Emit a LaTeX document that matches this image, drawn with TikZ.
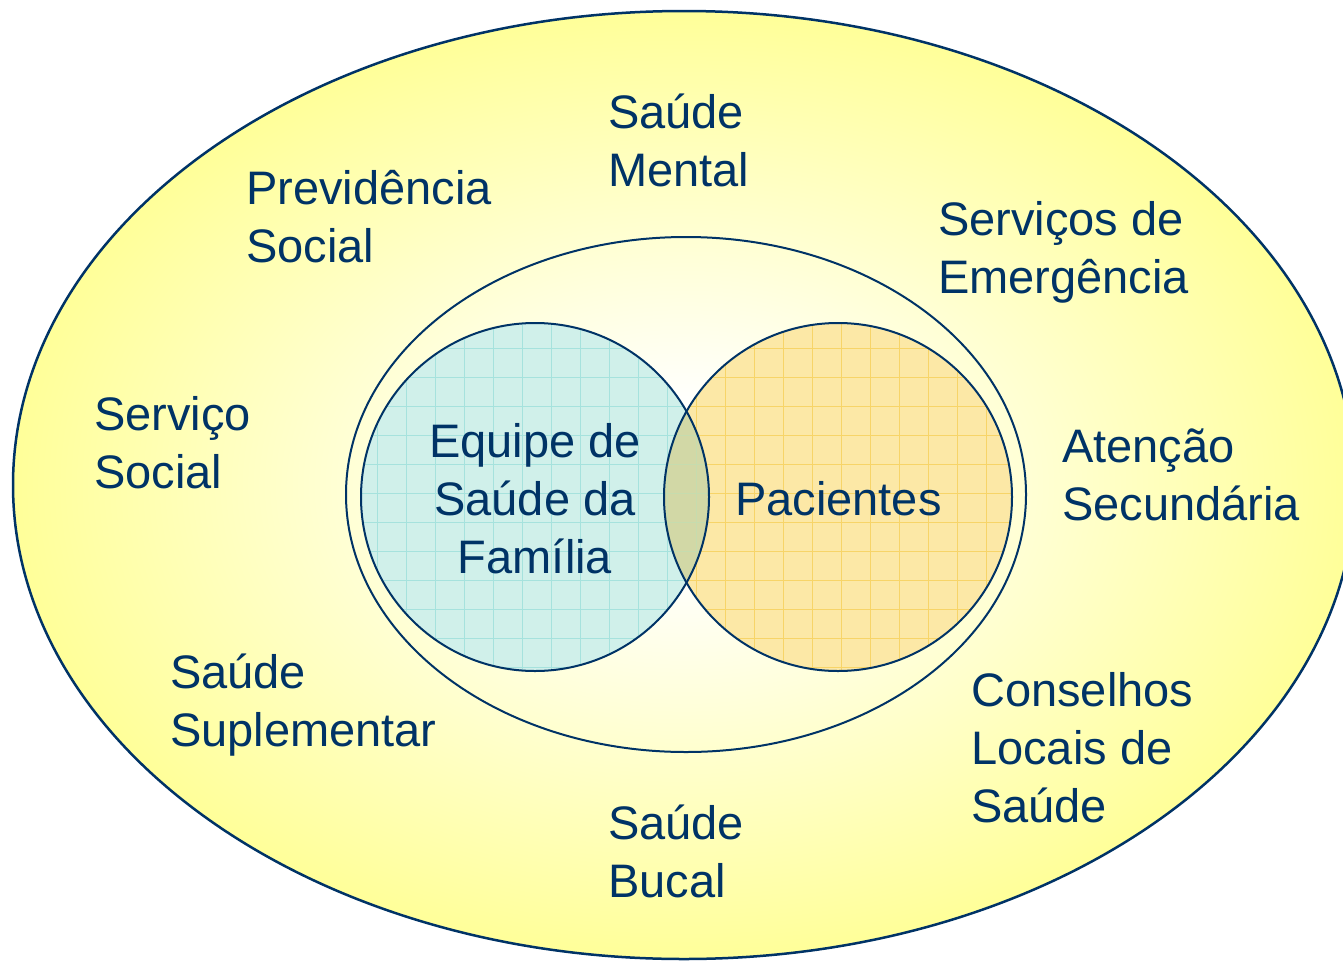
\documentclass[tikz,border=0pt]{standalone}
\usepackage{fontspec}
\setmainfont{Liberation Sans}
\definecolor{navy}{HTML}{003366}
\definecolor{yel}{HTML}{FFFF99}
\definecolor{tealfill}{HTML}{D0F0EA}
\definecolor{tealgrid}{HTML}{A6E2DD}
\definecolor{orfill}{HTML}{FCE8A6}
\definecolor{orgrid}{HTML}{F7D468}
\definecolor{olive}{HTML}{D2D8A6}
\pgfdeclareradialshading{outerglow}{\pgfpoint{0bp}{0bp}}{color(0bp)=(white); color(4bp)=(white); color(25bp)=(yel); color(50bp)=(yel)}
\begin{document}
\begin{tikzpicture}[x=1pt,y=-1pt,
  lab/.style={anchor=base west, align=left, inner sep=0pt, text=navy, font=\fontsize{47}{58}\selectfont},
  labc/.style={anchor=base, align=center, inner sep=0pt, text=navy, font=\fontsize{47}{58}\selectfont},
  ring/.style={draw=navy, line width=2pt},
  gridline/.style={line width=0.7pt}]
\clip (0,0) rectangle (1343,961);
% outer ellipse
\shade[shading=outerglow] (684,485) ellipse [x radius=671, y radius=474];
\draw[draw=navy, line width=2.5pt] (684,485) ellipse [x radius=671, y radius=474];
% inner ellipse
\draw[ring] (686,494.5) ellipse [x radius=340, y radius=257.5];
% left circle
\begin{scope}
  \clip (535,497) circle (174);
  \fill[tealfill] (535,497) circle (174);
  \draw[tealgrid, gridline] (340,300) grid[step=29pt] (730,700);
\end{scope}
% right circle
\begin{scope}
  \clip (838,497) circle (174);
  \fill[orfill] (838,497) circle (174);
  \draw[orgrid, gridline] (640,300) grid[step=29pt] (1030,700);
\end{scope}
% overlap
\begin{scope}
  \clip (535,497) circle (174);
  \clip (838,497) circle (174);
  \fill[olive] (600,300) rectangle (780,700);
  \draw[tealgrid!60!orgrid, gridline] (600,300) grid[step=29pt] (780,700);
\end{scope}
\draw[ring] (535,497) circle (174);
\draw[ring] (838,497) circle (174);
% labels (base anchor = baseline of last line)
\node[labc] (equipe) at (535,573) {Equipe de\\Saúde da\\Família};
\node[lab] (pac) at (735,515) {Pacientes};
\node[lab] (mental) at (608,186) {Saúde\\Mental};
\node[lab] (prev) at (246,262) {Previdência\\Social};
\node[lab] (emerg) at (938,293) {Serviços de\\Emergência};
\node[lab] (servsoc) at (94,488) {Serviço\\Social};
\node[lab] (atenc) at (1062,520) {Atenção\\Secundária};
\node[lab] (supl) at (170,746) {Saúde\\Suplementar};
\node[lab] (cons) at (971,822) {Conselhos\\Locais de\\Saúde};
\node[lab] (bucal) at (608,897) {Saúde\\Bucal};
\end{tikzpicture}
\end{document}
